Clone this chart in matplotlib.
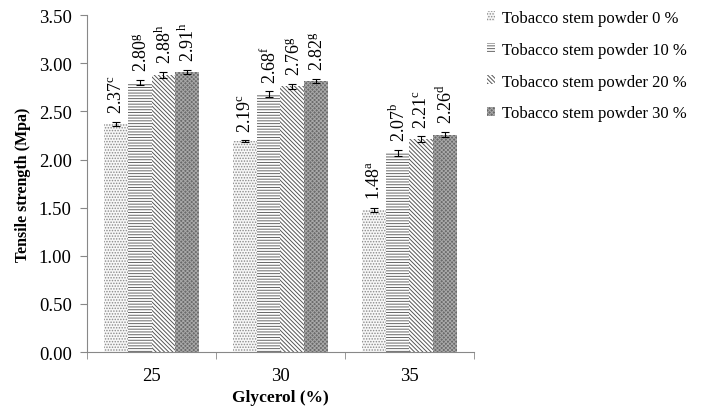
import numpy as np
import matplotlib
matplotlib.use("Agg")
import matplotlib.pyplot as plt
from matplotlib.patches import Patch

plt.rcParams['font.family'] = ['Liberation Serif', 'DejaVu Serif']
plt.rcParams['mathtext.fontset'] = 'custom'
plt.rcParams['mathtext.rm'] = 'Liberation Serif'
plt.rcParams['hatch.linewidth'] = 0.7

glycerol = ['25', '30', '35']
series = ['Tobacco stem powder 0 %', 'Tobacco stem powder 10 %',
          'Tobacco stem powder 20 %', 'Tobacco stem powder 30 %']
values = [
    [2.37, 2.19, 1.48],
    [2.80, 2.68, 2.07],
    [2.88, 2.76, 2.21],
    [2.91, 2.82, 2.26],
]
errors = [
    [0.02, 0.01, 0.02],
    [0.03, 0.03, 0.03],
    [0.03, 0.03, 0.03],
    [0.02, 0.02, 0.03],
]
letters = [
    ['c', 'c', 'a'],
    ['g', 'f', 'b'],
    ['h', 'g', 'c'],
    ['h', 'g', 'd'],
]

faces = ['#f7f7f7', 'white', 'white', '#6a6a6a']
hatches = ['......', '------', '\\\\\\\\\\\\\\\\', 'xxxxxxxx']
hatch_colors = ['#8a8a8a', '#666666', '#555555', '#a8a8a8']

fig = plt.figure(figsize=(7.02, 4.14), dpi=100)
ax = fig.add_axes([0.124, 0.147, 0.551, 0.814])

x = np.arange(len(glycerol))
w = 0.184
handles = []
for i in range(4):
    pos = x + (i - 1.5) * w
    ax.bar(pos, values[i], w, color=faces[i], hatch=hatches[i],
           edgecolor=hatch_colors[i], linewidth=0)
    ax.errorbar(pos, values[i], yerr=errors[i], fmt='none', ecolor='black',
                elinewidth=0.8, capsize=3, capthick=0.8)
    for p, v, e, l in zip(pos, values[i], errors[i], letters[i]):
        ax.text(p + 0.01, v + e + 0.09, f'{v:.2f}' + r'$^{\mathregular{' + l + '}}$',
                rotation=90, ha='center', va='bottom', fontsize=13)
    handles.append(Patch(facecolor=faces[i], hatch=hatches[i],
                         edgecolor=hatch_colors[i], linewidth=0, label=series[i]))

ax.set_xlim(-0.5, 2.5)
ax.set_ylim(0, 3.5)
ax.set_yticks(np.arange(0, 3.51, 0.5))
ax.set_yticklabels([f'{t:.2f}' for t in np.arange(0, 3.51, 0.5)], fontsize=13.5)
ax.set_xticks(x)
ax.set_xticklabels(glycerol, fontsize=13.5)
ax.set_xticks([-0.5, 0.5, 1.5, 2.5], minor=True)
ax.tick_params(axis='x', which='major', length=0, pad=11)
ax.tick_params(axis='x', which='minor', length=5, color='#888888')
ax.tick_params(axis='y', length=5, color='#888888', pad=6)
for s in ['top', 'right']:
    ax.spines[s].set_visible(False)
for s in ['left', 'bottom']:
    ax.spines[s].set_color('#888888')

ax.set_xlabel('Glycerol (%)', fontsize=12.5, fontweight='bold', labelpad=3)
ax.set_ylabel('Tensile strength (Mpa)', fontsize=11.5, fontweight='bold', labelpad=6)

fig.legend(handles=handles, loc='upper left', bbox_to_anchor=(0.672, 1.01),
           frameon=False, fontsize=12, handlelength=0.5, handleheight=0.5,
           handletextpad=0.4, labelspacing=0.95)

fig.savefig('out.png', dpi=100)
